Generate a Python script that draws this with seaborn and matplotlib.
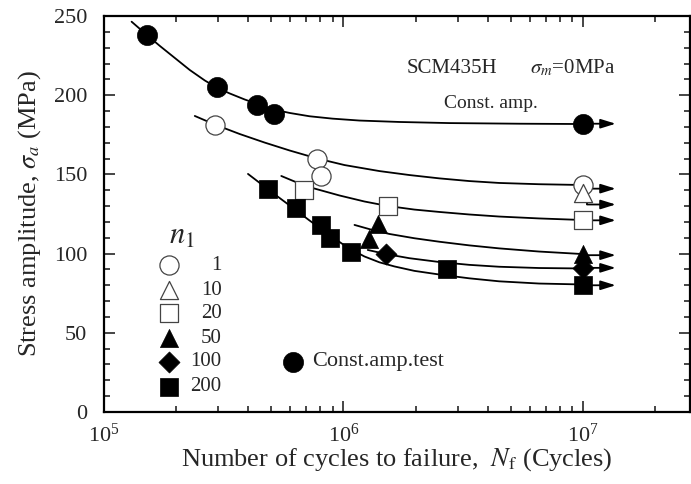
import matplotlib
matplotlib.use("Agg")
import matplotlib.pyplot as plt
import seaborn as sns
from matplotlib.ticker import MultipleLocator, LogLocator, NullFormatter

sns.set_style("ticks")
plt.rcParams["font.family"] = ["Liberation Serif", "DejaVu Serif"]
plt.rcParams["mathtext.fontset"] = "stix"

# ------------------------------------------------------------
# test points  (Nf [cycles], sigma_a [MPa])
# ------------------------------------------------------------
const_nf = [1.51e5, 2.95e5, 4.37e5, 5.11e5, 1.0e7]
const_sa = [238, 205, 194, 188, 182]

n1_1_nf = [2.91e5, 7.79e5, 8.07e5, 1.0e7]
n1_1_sa = [181, 160, 149, 143]
n1_10_nf = [1.0e7]
n1_10_sa = [138]
n1_20_nf = [6.81e5, 1.53e6, 1.0e7]
n1_20_sa = [140, 130, 121]
n1_50_nf = [1.28e6, 1.39e6, 1.0e7]
n1_50_sa = [109, 119, 100]
n1_100_nf = [1.51e6, 1.0e7]
n1_100_sa = [100, 91]
n1_200_nf = [4.84e5, 6.35e5, 8.07e5, 8.80e5, 1.077e6, 2.70e6, 1.0e7]
n1_200_sa = [141, 129, 118, 110, 101, 90, 80]

# runouts (arrows) : sigma_a of each arrow
runout_sa = [182, 141, 121, 99, 91, 80]
runout_n1_10_sa = 131

# ------------------------------------------------------------
# S-N curves as drawn in the figure
# ------------------------------------------------------------
crv_const_nf = [1.304e5, 1.511e5, 1.711e5, 1.976e5, 2.282e5, 2.636e5, 2.949e5, 3.350e5,
                3.868e5, 4.382e5, 5.107e5, 5.957e5, 7.217e5, 9.00e5, 1.166e6, 1.711e6,
                2.765e6, 5.412e6, 1.0e7]
crv_const_sa = [246.4, 238.0, 231.1, 223.5, 215.9, 209.3, 204.9, 201.1,
                197.3, 194.4, 191.0, 188.8, 186.7, 185.2, 184.0, 183.1,
                182.4, 182.0, 181.8]

crv_1_nf = [2.394e5, 2.90e5, 3.687e5, 4.686e5, 5.957e5, 7.79e5, 1.01e6, 1.413e6,
            1.884e6, 2.512e6, 3.35e6, 4.467e6, 6.56e6, 1.0e7]
crv_1_sa = [186.9, 181.5, 175.5, 170.1, 165.1, 160.0, 155.9, 152.1,
            149.6, 147.5, 145.8, 144.6, 143.8, 143.3]

crv_20_nf = [5.50e5, 6.25e5, 7.43e5, 9.62e5, 1.223e6, 1.525e6, 1.977e6, 2.512e6,
             3.35e6, 4.467e6, 6.56e6, 1.0e7]
crv_20_sa = [149.0, 145.5, 141.4, 136.7, 132.9, 130.1, 127.8, 126.3,
             124.7, 123.4, 122.2, 121.2]

crv_50_nf = [1.112e6, 1.308e6, 1.555e6, 1.977e6, 2.512e6, 3.35e6, 4.467e6, 6.56e6, 1.0e7]
crv_50_sa = [118.1, 115.1, 112.4, 109.7, 107.5, 105.2, 103.3, 101.3, 99.7]

crv_100_nf = [1.263e6, 1.507e6, 1.884e6, 2.512e6, 3.35e6, 4.467e6, 6.56e6, 1.0e7]
crv_100_sa = [102.3, 99.7, 97.1, 94.7, 92.9, 91.7, 90.9, 90.6]

crv_200_nf = [3.993e5, 4.918e5, 5.957e5, 7.217e5, 8.746e5, 1.039e6, 1.223e6, 1.413e6,
              1.632e6, 1.977e6, 2.512e6, 3.35e6, 4.467e6, 6.56e6, 1.0e7]
crv_200_sa = [150.3, 139.8, 130.4, 120.9, 111.7, 103.9, 98.2, 94.5,
              91.9, 89.1, 86.8, 84.4, 82.5, 81.1, 80.5]

legend_labels = ["1", "10", "20", "50", "100", "200"]

RUNOUT_START = 1.0e7
RUNOUT_END = 1.37e7
ARROW = dict(arrowstyle="-|>,head_length=0.9,head_width=0.28",
             color="black", lw=1.3, shrinkA=0, shrinkB=0)

# ------------------------------------------------------------
fig = plt.figure(figsize=(6.91, 4.84), dpi=100)
ax = fig.add_axes([104 / 691, 1 - 412 / 484, 586 / 691, 396 / 484])
ax.set_xscale("log")

for cx, cy in [(crv_const_nf, crv_const_sa), (crv_1_nf, crv_1_sa), (crv_20_nf, crv_20_sa),
               (crv_50_nf, crv_50_sa), (crv_100_nf, crv_100_sa), (crv_200_nf, crv_200_sa)]:
    sns.lineplot(x=cx, y=cy, color="black", lw=1.3, sort=False, estimator=None, ax=ax, zorder=2)

# runout arrows
for sa in runout_sa:
    ax.annotate("", xy=(RUNOUT_END, sa), xytext=(RUNOUT_START, sa), arrowprops=ARROW, zorder=2)
# bent arrow for n1 = 10
ax.plot([1.04e7, 1.04e7], [136, runout_n1_10_sa], color="black", lw=1.3, zorder=2)
ax.annotate("", xy=(RUNOUT_END, runout_n1_10_sa), xytext=(1.04e7, runout_n1_10_sa),
            arrowprops=ARROW, zorder=2)

open_kw = dict(facecolor="white", edgecolor="#444444", linewidth=0.9, zorder=4)
fill_kw = dict(color="black", edgecolor="black", linewidth=0.5, zorder=4)

sns.scatterplot(x=const_nf, y=const_sa, marker="o", s=210, ax=ax, **fill_kw)
sns.scatterplot(x=n1_1_nf, y=n1_1_sa, marker="o", s=190, ax=ax, **open_kw)
sns.scatterplot(x=n1_10_nf, y=n1_10_sa, marker="^", s=170, ax=ax, **open_kw)
sns.scatterplot(x=n1_20_nf, y=n1_20_sa, marker="s", s=150, ax=ax, **open_kw)
sns.scatterplot(x=n1_50_nf, y=n1_50_sa, marker="^", s=170, ax=ax, **fill_kw)
sns.scatterplot(x=n1_100_nf, y=n1_100_sa, marker="D", s=115, ax=ax, **fill_kw)
sns.scatterplot(x=n1_200_nf, y=n1_200_sa, marker="s", s=150, ax=ax, **fill_kw)

# axes
ax.set_xlim(1e5, 2.8e7)
ax.set_ylim(0, 250)
ax.yaxis.set_major_locator(MultipleLocator(50))
ax.yaxis.set_minor_locator(MultipleLocator(10))
ax.xaxis.set_major_locator(LogLocator(base=10))
ax.xaxis.set_minor_locator(LogLocator(base=10, subs=range(2, 10)))
ax.xaxis.set_minor_formatter(NullFormatter())
ax.tick_params(which="both", direction="in", top=True, right=True, labelsize=16, width=1.2)
ax.tick_params(which="major", length=8)
ax.tick_params(axis="x", which="major", pad=8)
ax.tick_params(axis="y", which="major", pad=12)
ax.tick_params(which="minor", length=4)
for sp in ax.spines.values():
    sp.set_linewidth(1.6)
    sp.set_color("black")
ax.grid(False)

ax.set_xlabel(r"Number of cycles to failure,  $N_\mathrm{f}$ (Cycles)", fontsize=19, labelpad=0)
ax.set_ylabel(r"Stress amplitude, $\sigma_a$ (MPa)", fontsize=19, labelpad=8)

# annotations
ax.text(0.5165, 0.868, "SCM435H", transform=ax.transAxes, fontsize=15, va="center")
ax.text(0.727, 0.868, r"$\sigma_m$=0MPa", transform=ax.transAxes, fontsize=15, va="center")
ax.text(0.5807, 0.7795, "Const. amp.", transform=ax.transAxes, fontsize=14, va="center")

# legend (hand-placed, as in the original)
ax.text(0.1326, 0.4427, r"$n_1$", transform=ax.transAxes, fontsize=22, ha="center", va="center")
leg_y = [0.371, 0.308, 0.249, 0.186, 0.127, 0.064]
leg_style = [("o", 190, open_kw), ("^", 170, open_kw), ("s", 150, open_kw),
             ("^", 170, fill_kw), ("D", 115, fill_kw), ("s", 150, fill_kw)]
for yy, lab, (mk, sz, kw) in zip(leg_y, legend_labels, leg_style):
    ax.scatter([0.111], [yy], marker=mk, s=sz, transform=ax.transAxes, clip_on=False, **kw)
    ax.text(0.2008, yy, lab, transform=ax.transAxes, fontsize=15, ha="right", va="center")
ax.scatter([0.323], [0.127], marker="o", s=210, transform=ax.transAxes, **fill_kw)
ax.text(0.3544, 0.127, "Const.amp.test", transform=ax.transAxes, fontsize=16, va="center")

fig.savefig("out.png", dpi=100)
